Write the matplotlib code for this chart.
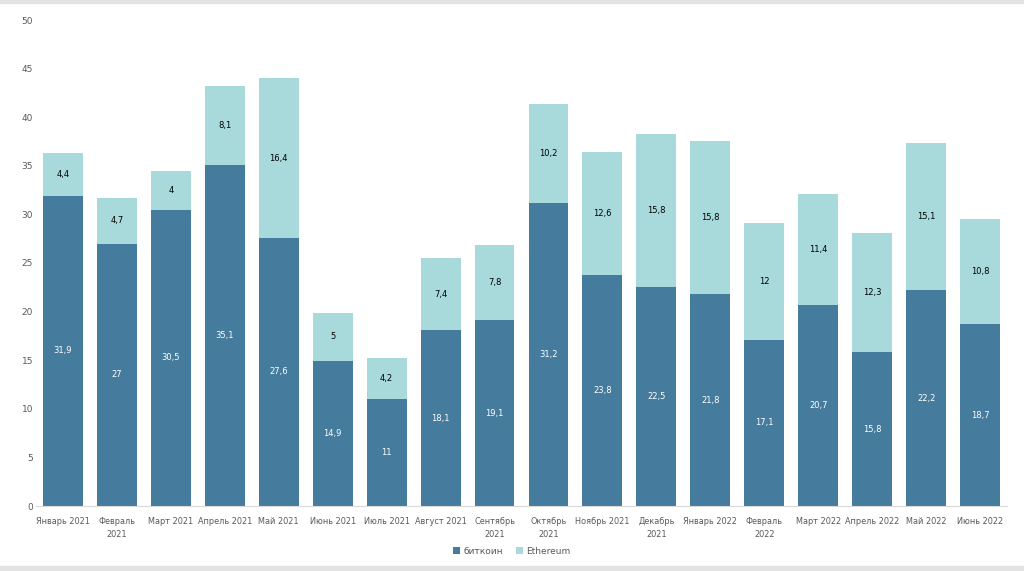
import matplotlib
matplotlib.use("Agg")
import matplotlib.pyplot as plt
from matplotlib.patches import Rectangle

categories = ["Январь 2021", "Февраль\n2021", "Март 2021", "Апрель 2021", "Май 2021",
              "Июнь 2021", "Июль 2021", "Август 2021", "Сентябрь\n2021", "Октябрь\n2021",
              "Ноябрь 2021", "Декабрь\n2021", "Январь 2022", "Февраль\n2022", "Март 2022",
              "Апрель 2022", "Май 2022", "Июнь 2022"]
bitcoin = [31.9, 27, 30.5, 35.1, 27.6, 14.9, 11, 18.1, 19.1, 31.2, 23.8, 22.5, 21.8, 17.1, 20.7, 15.8, 22.2, 18.7]
ethereum = [4.4, 4.7, 4, 8.1, 16.4, 5, 4.2, 7.4, 7.8, 10.2, 12.6, 15.8, 15.8, 12, 11.4, 12.3, 15.1, 10.8]
yticks = [0, 5, 10, 15, 20, 25, 30, 35, 40, 45, 50]

c_btc = "#457B9D"
c_eth = "#A8DADC"

def fmt(v):
    s = ("%g" % v)
    return s.replace(".", ",")

fig = plt.figure(figsize=(10.24, 5.71), dpi=100)
fig.patch.set_facecolor("white")
ax = fig.add_axes([36/1024, 1-506/571, (1007-36)/1024, (506-20)/571])

x = list(range(len(categories)))
w = 0.74
b1 = ax.bar(x, bitcoin, width=w, color=c_btc, label="биткоин", zorder=2)
b2 = ax.bar(x, ethereum, width=w, bottom=bitcoin, color=c_eth, label="Ethereum", zorder=2)

for i in x:
    ax.text(i, bitcoin[i]/2, fmt(bitcoin[i]), ha="center", va="center", color="white", fontsize=6)
    ax.text(i, bitcoin[i] + ethereum[i]/2, fmt(ethereum[i]), ha="center", va="center", color="black", fontsize=6)

ax.set_xlim(-0.5, len(categories)-0.5)
ax.set_ylim(0, 50)
ax.set_yticks(yticks)
ax.set_yticklabels([str(t) for t in yticks])
ax.set_xticks(x)
ax.set_xticklabels(categories, fontsize=5.9, color="#595959", linespacing=1.5)
ax.tick_params(axis="y", length=0, labelsize=6.5, labelcolor="#595959", pad=2)
ax.tick_params(axis="x", length=0, pad=8)
for s in ["top", "right", "left"]:
    ax.spines[s].set_visible(False)
ax.spines["bottom"].set_color("#d9d9d9")
ax.set_facecolor("white")

fig.legend(handles=[b1, b2], loc="center", bbox_to_anchor=(512/1024, 1-551/571), ncol=2,
           frameon=False, fontsize=6.5, handlelength=0.7, handleheight=0.7,
           handletextpad=0.4, columnspacing=1.5, labelcolor="#595959")

fig.add_artist(Rectangle((0, 1-3/571), 1, 3/571, transform=fig.transFigure, color="#e3e3e3", zorder=0))
fig.add_artist(Rectangle((0, 0), 1, 5/571, transform=fig.transFigure, color="#e3e3e3", zorder=0))

fig.savefig("out.png", dpi=100)
